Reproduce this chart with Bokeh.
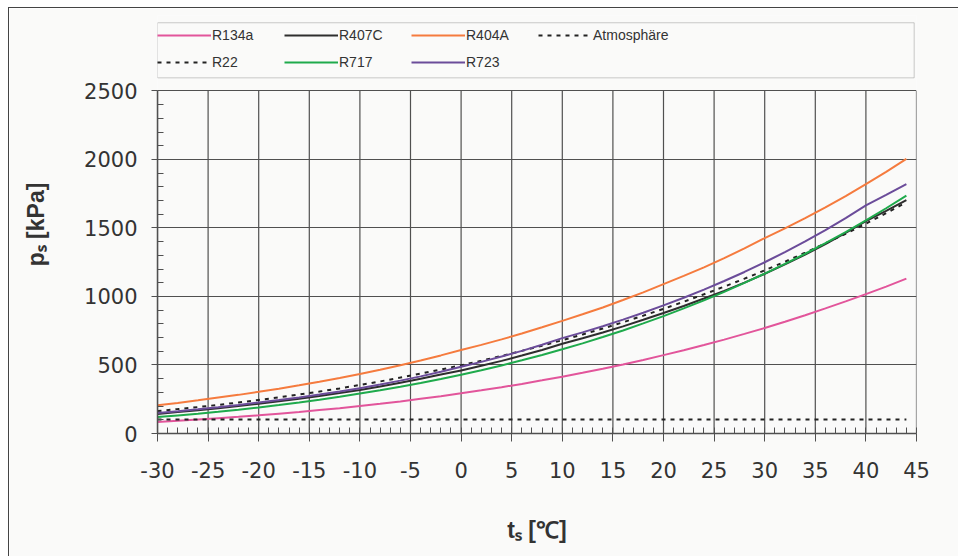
from bokeh.plotting import figure
from bokeh.models import Range1d, FixedTicker, Legend, LegendItem, BoxAnnotation
from bokeh.embed import file_html
from bokeh.resources import INLINE

# --- data ---
t = [-30, -28, -26, -24, -22, -20, -18, -16, -14, -12, -10, -8, -6, -4, -2,
     0, 2, 4, 6, 8, 10, 12, 14, 16, 18, 20, 22, 24, 26, 28, 30, 32, 34, 36,
     38, 40, 42, 44]
r134a = [84, 93, 102, 112, 122, 133, 145, 157, 171, 185, 201, 217, 234, 253, 272,
         293, 315, 338, 362, 388, 415, 443, 473, 504, 537, 572, 608, 646, 685, 727,
         770, 816, 863, 913, 964, 1017, 1072, 1130]
r407c = [143, 156, 169, 184, 200, 218, 235, 254, 274, 295, 318, 343, 370, 399, 431,
         460, 494, 530, 569, 610, 655, 695, 737, 782, 830, 880, 931, 985, 1041, 1101,
         1165, 1234, 1306, 1383, 1464, 1550, 1625, 1704]
r404a = [206, 223, 242, 262, 282, 304, 327, 352, 378, 405, 434, 465, 498, 533, 570,
         610, 647, 687, 730, 775, 822, 870, 920, 974, 1030, 1090, 1150, 1213, 1280, 1351,
         1426, 1497, 1572, 1651, 1733, 1820, 1910, 2005]
r22 = [164, 178, 193, 209, 226, 245, 264, 285, 306, 329, 354, 380, 408, 437, 467,
       498, 531, 566, 603, 641, 681, 723, 766, 812, 860, 910, 962, 1016, 1072, 1130,
       1191, 1254, 1320, 1388, 1458, 1532, 1608, 1687]
r717 = [120, 132, 144, 158, 173, 190, 208, 227, 247, 269, 292, 316, 342, 369, 398,
        429, 462, 497, 534, 573, 615, 658, 704, 752, 804, 857, 913, 972, 1034, 1099,
        1167, 1238, 1312, 1389, 1470, 1555, 1644, 1736]
r723 = [150, 163, 177, 192, 208, 226, 244, 263, 284, 306, 330, 357, 386, 417, 451,
        487, 523, 562, 603, 648, 696, 738, 783, 831, 881, 935, 991, 1050, 1113, 1179,
        1250, 1324, 1402, 1485, 1572, 1665, 1741, 1820]
atm_t = [-30, 44]
atm_p = [101.3, 101.3]

x_ticks = [-30, -25, -20, -15, -10, -5, 0, 5, 10, 15, 20, 25, 30, 35, 40, 45]
y_ticks = [0, 500, 1000, 1500, 2000, 2500]

BG = "#fafaf9"
TXT = "#333333"
GRID = "#505050"

# frame extends above 2500 so that the legend (drawn inside the frame) is visible
Y_TOP = 3051
p = figure(width=950, height=549, x_range=Range1d(-30, 45), y_range=Range1d(0, Y_TOP),
           output_backend="svg", toolbar_location=None,
           min_border_left=148, min_border_right=43, min_border_top=7, min_border_bottom=124,
           background_fill_color=BG, border_fill_color=BG)
p.styles = {"margin-left": "8px", "margin-top": "7px",
            "border-left": "1px solid #444444", "border-top": "1px solid #444444"}
p.outline_line_color = None

p.xaxis.ticker = FixedTicker(ticks=x_ticks, minor_ticks=list(range(-30, 46)))
p.yaxis.ticker = FixedTicker(ticks=y_ticks, minor_ticks=list(range(0, 2501, 100)))
p.yaxis.bounds = (y_ticks[0], y_ticks[-1])
p.xaxis.major_label_overrides = {v: str(v) for v in x_ticks}
for ax in (p.xaxis[0], p.yaxis[0]):
    ax.axis_line_color = GRID
    ax.axis_line_width = 1.5
    ax.major_tick_line_color = GRID
    ax.minor_tick_line_color = GRID
    ax.major_tick_in = 0
    ax.minor_tick_in = 6
    ax.minor_tick_out = 0
    ax.major_label_text_font = "DejaVu Sans"
    ax.major_label_text_font_size = "21px"
    ax.major_label_text_color = TXT
    ax.axis_label_text_font = "Liberation Sans"
    ax.axis_label_text_font_style = "bold"
    ax.axis_label_text_font_size = "23px"
    ax.axis_label_text_color = TXT
p.xaxis.major_tick_out = 8
p.yaxis.major_tick_out = 6
p.xaxis.major_label_standoff = 20
p.yaxis.major_label_standoff = 14
p.xaxis.axis_label = "tₛ [℃]"
p.yaxis.axis_label = "pₛ [kPa]"
p.xaxis.axis_label_standoff = 36
p.yaxis.axis_label_standoff = 32

p.xgrid.visible = False
p.ygrid.ticker = FixedTicker(ticks=y_ticks)
p.ygrid.grid_line_color = GRID
p.ygrid.grid_line_width = 1.2
# vertical grid lines limited to the value range 0..2500
p.segment(x0=x_ticks, y0=[y_ticks[0]] * len(x_ticks), x1=x_ticks, y1=[y_ticks[-1]] * len(x_ticks),
          line_color=GRID, line_width=1.2)

lw = 2
g134 = p.line(t, r134a, line_color="#e2559b", line_width=lw)
g407 = p.line(t, r407c, line_color="#2e2e2e", line_width=lw)
g404 = p.line(t, r404a, line_color="#f57b3e", line_width=lw)
gatm = p.line(atm_t, atm_p, line_color="#222222", line_width=2, line_dash="4 5")
g22 = p.line(t, r22, line_color="#222222", line_width=2, line_dash="4 5")
g717 = p.line(t, r717, line_color="#1faa4c", line_width=lw)
g723 = p.line(t, r723, line_color="#6b4c9a", line_width=lw)

# legend frame (wide box as in the reference)
p.add_layout(BoxAnnotation(left=-30, right=44.77, bottom=2596, top=2998,
                           fill_color=BG, fill_alpha=1.0, line_color="#555555",
                           line_width=1, level="annotation"))

items = [LegendItem(label="R134a", renderers=[g134]),
         LegendItem(label="R407C", renderers=[g407]),
         LegendItem(label="R404A", renderers=[g404]),
         LegendItem(label="Atmosphäre", renderers=[gatm]),
         LegendItem(label="R22", renderers=[g22]),
         LegendItem(label="R717", renderers=[g717]),
         LegendItem(label="R723", renderers=[g723])]
leg = Legend(items=items, location=(0, 360), orientation="horizontal", ncols=4,
             glyph_width=54, glyph_height=22, label_width=67, label_height=22,
             label_standoff=1, spacing=5, padding=0, margin=0,
             label_text_font="Liberation Sans", label_text_font_size="14px",
             label_text_color=TXT, border_line_color=None,
             background_fill_alpha=0.0)
p.add_layout(leg, "center")

open("out.html", "w").write(file_html(p, INLINE))
